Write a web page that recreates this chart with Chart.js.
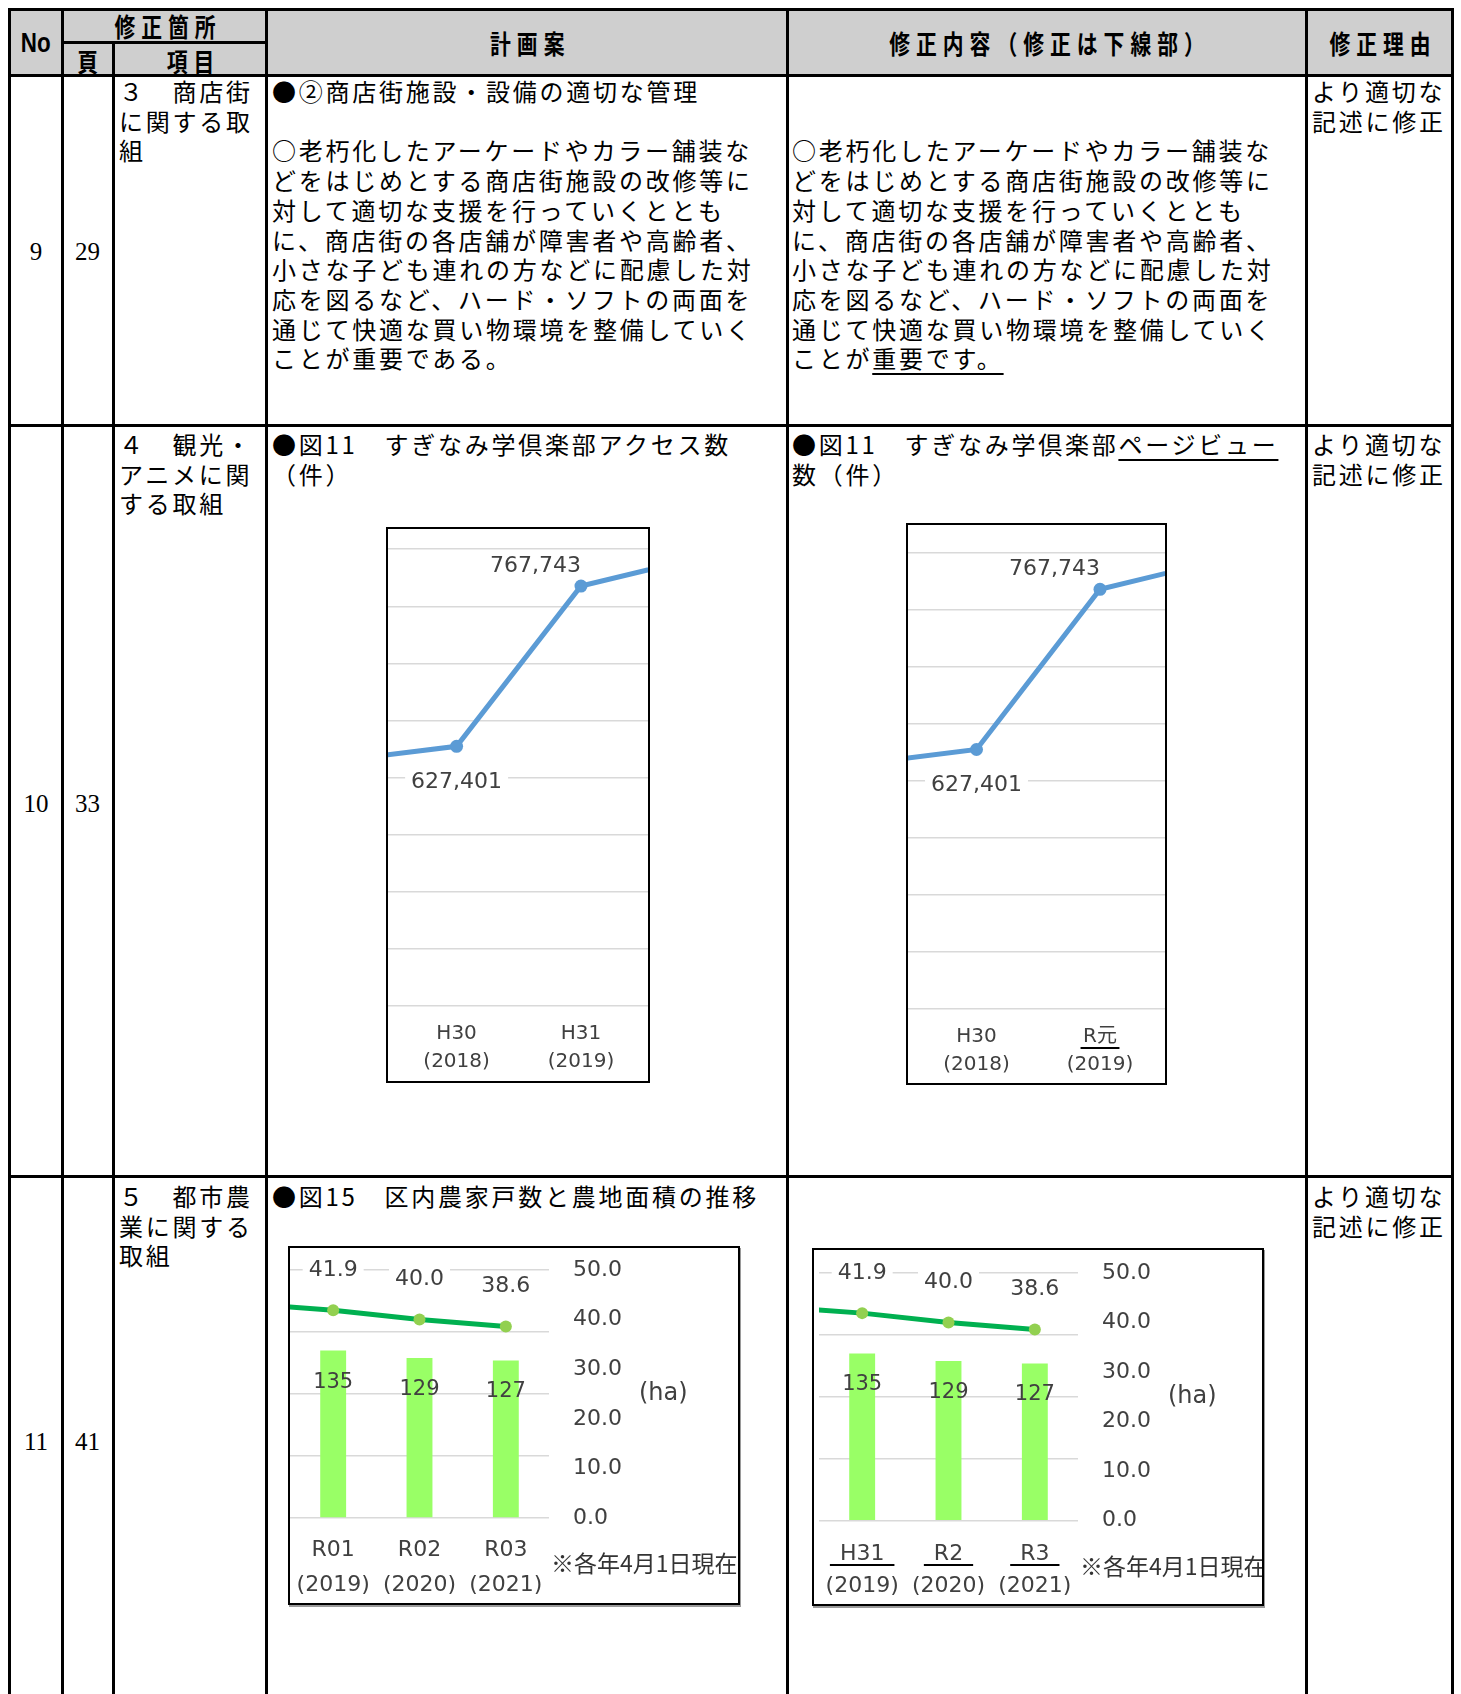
<!DOCTYPE html>
<html lang="ja">
<head>
<meta charset="utf-8">
<title>修正箇所一覧</title>
<script src="https://cdn.jsdelivr.net/npm/chart.js@4.4.1/dist/chart.umd.min.js"></script>
<style>
html, body { margin: 0; padding: 0; background: #fff; }
#page { position: relative; width: 1461px; height: 1694px; overflow: hidden; }
.ln { position: absolute; background: #000; }
.head { position: absolute; background: #cfcfcf; }
.ht { position: absolute; display: flex; align-items: center; justify-content: center; font-family: "Noto Sans CJK JP"; font-weight: 700; font-size: 26px; color: #000; }
.ht span { display: inline-block; transform: scaleX(0.8); letter-spacing: 7.5px; margin-right: -7.5px; white-space: nowrap; }
.ht.no span { font-family: "Liberation Sans Narrow", "Liberation Sans", sans-serif; font-size: 28px; letter-spacing: 0; margin-right: 0; }
.t { position: absolute; font-family: "Noto Sans CJK JP"; font-size: 24px; letter-spacing: 2.75px; line-height: 29.7px; white-space: nowrap; color: #000; }
.t u { text-decoration-thickness: 2px; text-underline-offset: 5px; }
.num { position: absolute; font-family: "Liberation Serif", serif; font-size: 25px; line-height: 30px; text-align: center; color: #000; }
.box { position: absolute; border: 2px solid #000; box-sizing: border-box; background: #fff; }
.box.sh { box-shadow: 1px 2px 0 #9a9a9a; }
.cw { position: relative; width: 100%; height: 100%; }
</style>
</head>
<body>
<div id="page">
  <!-- 見出し行 -->
  <div class="head" style="left:8px;top:8px;width:1446px;height:69px;"></div>
  <div class="ht no" style="left:10px;top:10px;width:52px;height:65px;"><span>No</span></div>
  <div class="ht" style="left:63px;top:9px;width:202px;height:32px;"><span>修正箇所</span></div>
  <div class="ht" style="left:63px;top:44px;width:49px;height:32px;"><span>頁</span></div>
  <div class="ht" style="left:114px;top:44px;width:151px;height:32px;"><span>項目</span></div>
  <div class="ht" style="left:267px;top:10px;width:519px;height:65px;"><span>計画案</span></div>
  <div class="ht" style="left:788px;top:10px;width:517px;height:65px;"><span>修正内容（修正は下線部）</span></div>
  <div class="ht" style="left:1307px;top:10px;width:144px;height:65px;"><span>修正理由</span></div>

  <!-- 罫線 -->
  <div class="ln" style="left:8px;top:8px;width:1446px;height:3px;"></div>
  <div class="ln" style="left:61px;top:41px;width:207px;height:3px;"></div>
  <div class="ln" style="left:8px;top:74px;width:1446px;height:3px;"></div>
  <div class="ln" style="left:8px;top:424px;width:1446px;height:3px;"></div>
  <div class="ln" style="left:8px;top:1175px;width:1446px;height:3px;"></div>
  <div class="ln" style="left:8px;top:8px;width:3px;height:1686px;"></div>
  <div class="ln" style="left:61px;top:8px;width:3px;height:1686px;"></div>
  <div class="ln" style="left:112px;top:41px;width:3px;height:1653px;"></div>
  <div class="ln" style="left:265px;top:8px;width:3px;height:1686px;"></div>
  <div class="ln" style="left:786px;top:8px;width:3px;height:1686px;"></div>
  <div class="ln" style="left:1305px;top:8px;width:3px;height:1686px;"></div>
  <div class="ln" style="left:1451px;top:8px;width:3px;height:1686px;"></div>

  <!-- No.9 -->
  <div class="num" style="left:10px;top:237px;width:52px;">9</div>
  <div class="num" style="left:63px;top:237px;width:49px;">29</div>
  <div class="t" style="left:119px;top:76px;">３　商店街<br>に関する取<br>組</div>
  <div class="t" style="left:272px;top:76px;">●②商店街施設・設備の適切な管理<br><br>○老朽化したアーケードやカラー舗装な<br>どをはじめとする商店街施設の改修等に<br>対して適切な支援を行っていくととも<br>に、商店街の各店舗が障害者や高齢者、<br>小さな子ども連れの方などに配慮した対<br>応を図るなど、ハード・ソフトの両面を<br>通じて快適な買い物環境を整備していく<br>ことが重要である。</div>
  <div class="t" style="left:792px;top:76px;"><br><br>○老朽化したアーケードやカラー舗装な<br>どをはじめとする商店街施設の改修等に<br>対して適切な支援を行っていくととも<br>に、商店街の各店舗が障害者や高齢者、<br>小さな子ども連れの方などに配慮した対<br>応を図るなど、ハード・ソフトの両面を<br>通じて快適な買い物環境を整備していく<br>ことが<u>重要です。</u></div>
  <div class="t" style="left:1312px;top:76px;">より適切な<br>記述に修正</div>

  <!-- No.10 -->
  <div class="num" style="left:10px;top:789px;width:52px;">10</div>
  <div class="num" style="left:63px;top:789px;width:49px;">33</div>
  <div class="t" style="left:119px;top:429px;">４　観光・<br>アニメに関<br>する取組</div>
  <div class="t" style="left:272px;top:429px;">●図11　すぎなみ学倶楽部アクセス数<br>（件）</div>
  <div class="t" style="left:792px;top:429px;">●図11　すぎなみ学倶楽部<u>ページビュー</u><br>数（件）</div>
  <div class="t" style="left:1312px;top:429px;">より適切な<br>記述に修正</div>
  <div class="box" style="left:386px;top:527px;width:264px;height:556px;"><div class="cw"><canvas id="pvPlan"></canvas></div></div>
  <div class="box" style="left:906px;top:523px;width:261px;height:562px;"><div class="cw"><canvas id="pvRev"></canvas></div></div>

  <!-- No.11 -->
  <div class="num" style="left:10px;top:1427px;width:52px;">11</div>
  <div class="num" style="left:63px;top:1427px;width:49px;">41</div>
  <div class="t" style="left:119px;top:1181px;">５　都市農<br>業に関する<br>取組</div>
  <div class="t" style="left:272px;top:1181px;">●図15　区内農家戸数と農地面積の推移</div>
  <div class="t" style="left:1312px;top:1181px;">より適切な<br>記述に修正</div>
  <div class="box sh" style="left:288px;top:1246px;width:452px;height:359px;"><div class="cw"><canvas id="farmPlan"></canvas></div></div>
  <div class="box sh" style="left:812px;top:1248px;width:452px;height:358px;"><div class="cw"><canvas id="farmRev"></canvas></div></div>
</div>

<script>
// 図11 すぎなみ学倶楽部アクセス数（件）
// 枠の外側の年度（先頭と末尾）は線の端だけが見えている
const pvSlots = [0, 1, 2, 3];
const pvCounts = [614000, 627401, 767743, 794000];
const pvErasPlan = ['', 'H30', 'H31', ''];
const pvErasRev = ['', 'H30', 'R元', ''];
const pvYears = ['', '(2018)', '(2019)', ''];
const pvRevMarked = [2];
const pvGridTicks = [400000, 450000, 500000, 550000, 600000, 650000, 700000, 750000, 800000];

// 図15 区内農家戸数と農地面積の推移
const farmErasPlan = ['H30', 'R01', 'R02', 'R03'];
const farmErasRev = ['H30', 'H31', 'R2', 'R3'];
const farmYears = ['(2018)', '(2019)', '(2020)', '(2021)'];
const farmHouseholds = [null, 135, 129, 127];
const farmAreaHa = [43.2, 41.9, 40.0, 38.6];
const farmRevMarked = [1, 2, 3];
const farmGridTicks = [0, 50, 100, 150, 200];
const haTicks = [0, 10, 20, 30, 40, 50];
const areaUnit = '(ha)';
const farmNote = '※各年4月1日現在';

const LABEL_FONT = '"DejaVu Sans", "Noto Sans CJK JP", sans-serif';
const GREY = '#404040';
const GRID = '#d9d9d9';

// 軸ラベルのはみ出し分の余白は使わない（枠の位置に合わせる）
function noPad(s) {
  s.paddingTop = 0;
  s.paddingBottom = 0;
  s.paddingLeft = 0;
  s.paddingRight = 0;
}

function fixedTicks(values) {
  return s => { s.ticks = values.map(v => ({ value: v })); };
}

// データラベル（点・棒の位置はスケールから取る）
function valueLabels(items) {
  return {
    id: 'valueLabels',
    afterDatasetsDraw(chart) {
      const ctx = chart.ctx;
      items.forEach(it => {
        const el = chart.getDatasetMeta(it.ds).data[it.i];
        const raw = chart.data.datasets[it.ds].data[it.i];
        const val = raw !== null && typeof raw === 'object' ? raw.y : raw;
        const text = it.fmt(val);
        ctx.save();
        ctx.font = it.font;
        ctx.textAlign = it.align || 'center';
        ctx.textBaseline = 'middle';
        const w = ctx.measureText(text).width;
        const x = el.x + (it.dx || 0);
        const y = el.y + it.dy;
        if (it.bg) {
          const left = it.align === 'right' ? x - w : it.align === 'left' ? x : x - w / 2;
          ctx.fillStyle = '#fff';
          ctx.fillRect(left - 6, y - 12, w + 12, 24);
        }
        ctx.fillStyle = GREY;
        ctx.fillText(text, x, y);
        ctx.restore();
      });
    }
  };
}

// 修正した年度ラベルの下線
function eraUnderline(values, eras, font, dy, extra) {
  return {
    id: 'eraUnderline',
    afterDraw(chart) {
      const sx = chart.scales.x;
      const ctx = chart.ctx;
      ctx.save();
      ctx.font = font;
      ctx.strokeStyle = '#000';
      ctx.lineWidth = 2;
      values.forEach(v => {
        const x = sx.getPixelForValue(v);
        const w = ctx.measureText(eras[v]).width + extra;
        const y = Math.round(sx.top + dy);
        ctx.beginPath();
        ctx.moveTo(x - w / 2, y);
        ctx.lineTo(x + w / 2, y);
        ctx.stroke();
      });
      ctx.restore();
    }
  };
}

function farmNotes(noteDy) {
  return {
    id: 'farmNotes',
    afterDraw(chart) {
      const ctx = chart.ctx;
      const y1 = chart.scales.y1;
      const area = chart.chartArea;
      ctx.save();
      ctx.textAlign = 'left';
      ctx.textBaseline = 'middle';
      ctx.fillStyle = GREY;
      ctx.font = '24px ' + LABEL_FONT;
      ctx.fillText(areaUnit, y1.left + 90, (area.top + area.bottom) / 2);
      ctx.fillStyle = '#333';
      ctx.font = '23px "Noto Sans CJK JP"';
      ctx.fillText(farmNote, y1.left + 2, area.bottom + noteDy);
      ctx.restore();
    }
  };
}

function pageViewChart(id, eras, o) {
  const shown = pvSlots.filter((s, i) => eras[i] !== '');
  const tickFont = { family: LABEL_FONT, size: 20, lineHeight: 1.4 };
  const plugins = [valueLabels([
    { ds: 0, i: 2, dy: -20, align: 'right', bg: true, font: '22px ' + LABEL_FONT, fmt: v => v.toLocaleString('en-US') },
    { ds: 0, i: 1, dy: 36, align: 'center', bg: true, font: '22px ' + LABEL_FONT, fmt: v => v.toLocaleString('en-US') }
  ])];
  if (o.marked) plugins.push(eraUnderline(o.marked, eras, '20px ' + LABEL_FONT, o.lineDy, 5));
  return new Chart(document.getElementById(id), {
    type: 'line',
    data: {
      datasets: [{
        data: pvSlots.map((s, i) => ({ x: s, y: pvCounts[i] })),
        borderColor: '#5b9bd5',
        backgroundColor: '#5b9bd5',
        pointBackgroundColor: '#5b9bd5',
        borderWidth: 5,
        pointRadius: 6.5,
        pointBorderWidth: 0,
        tension: 0
      }]
    },
    options: {
      responsive: true,
      maintainAspectRatio: false,
      animation: false,
      events: [],
      layout: { padding: 0, autoPadding: false },
      plugins: { legend: { display: false }, tooltip: { enabled: false } },
      scales: {
        x: {
          type: 'linear',
          min: o.xMin,
          max: o.xMax,
          grid: { display: false },
          border: { display: false },
          afterBuildTicks: fixedTicks(shown),
          ticks: {
            autoSkip: false,
            maxRotation: 0,
            padding: 6,
            color: GREY,
            font: tickFont,
            callback: v => { const i = pvSlots.indexOf(v); return [eras[i], pvYears[i]]; }
          },
          afterFit: s => { s.height = o.axisH; noPad(s); }
        },
        y: {
          min: 400000,
          max: o.yMax,
          afterBuildTicks: fixedTicks(pvGridTicks),
          ticks: { display: false },
          grid: { color: GRID, lineWidth: 1.5, drawTicks: false },
          border: { display: false },
          afterFit: s => { s.width = 0; noPad(s); }
        }
      }
    },
    plugins: plugins
  });
}

function farmChart(id, eras, o) {
  const fontL = '22px ' + LABEL_FONT;
  const fontB = '21px ' + LABEL_FONT;
  const plugins = [
    valueLabels([
      { ds: 1, i: 1, dy: -40, bg: true, font: fontL, fmt: v => v.toFixed(1) },
      { ds: 1, i: 2, dy: -40, bg: true, font: fontL, fmt: v => v.toFixed(1) },
      { ds: 1, i: 3, dy: -40, bg: true, font: fontL, fmt: v => v.toFixed(1) },
      { ds: 0, i: 1, dy: 31.5, font: fontB, fmt: v => String(v) },
      { ds: 0, i: 2, dy: 31.5, font: fontB, fmt: v => String(v) },
      { ds: 0, i: 3, dy: 31.5, font: fontB, fmt: v => String(v) }
    ]),
    farmNotes(o.noteDy)
  ];
  if (o.marked) plugins.push(eraUnderline(o.marked, eras, '22px ' + LABEL_FONT, o.lineDy, 20));
  return new Chart(document.getElementById(id), {
    type: 'bar',
    data: {
      labels: eras.map((e, i) => [e, farmYears[i]]),
      datasets: [
        {
          type: 'bar',
          data: farmHouseholds,
          yAxisID: 'y',
          backgroundColor: '#99ff66',
          categoryPercentage: 1,
          barPercentage: 0.3,
          order: 1
        },
        {
          type: 'line',
          data: farmAreaHa,
          yAxisID: 'y1',
          borderColor: '#00b050',
          backgroundColor: '#92d050',
          pointBackgroundColor: '#92d050',
          borderWidth: 5,
          pointRadius: 6,
          pointBorderWidth: 0,
          tension: 0,
          order: 0
        }
      ]
    },
    options: {
      responsive: true,
      maintainAspectRatio: false,
      animation: false,
      events: [],
      layout: { padding: { left: o.padL, top: o.padT, right: 0, bottom: 0 }, autoPadding: false },
      plugins: { legend: { display: false }, tooltip: { enabled: false } },
      scales: {
        x: {
          type: 'category',
          min: 1,
          max: 3,
          offset: true,
          grid: { display: false },
          border: { display: false },
          ticks: {
            autoSkip: false,
            maxRotation: 0,
            padding: o.tickPad,
            color: GREY,
            font: { family: LABEL_FONT, size: 22, lineHeight: o.lineH }
          },
          afterFit: s => { s.height = o.axisH; noPad(s); }
        },
        y: {
          position: 'left',
          min: 0,
          max: 200,
          afterBuildTicks: fixedTicks(farmGridTicks),
          ticks: { display: false },
          grid: { color: GRID, lineWidth: 1.5, drawTicks: false },
          border: { display: false },
          afterFit: s => { s.width = 0; noPad(s); }
        },
        y1: {
          position: 'right',
          min: 0,
          max: 50,
          afterBuildTicks: fixedTicks(haTicks),
          grid: { display: false, drawTicks: false },
          border: { display: false },
          ticks: {
            padding: 24,
            color: GREY,
            font: { family: LABEL_FONT, size: 22 },
            callback: v => Number(v).toFixed(1)
          },
          afterFit: s => { s.width = o.rightW; noPad(s); }
        }
      }
    },
    plugins: plugins
  });
}

pageViewChart('pvPlan', pvErasPlan, { xMin: 0.4486, xMax: 2.5387, yMax: 817700, axisH: 75 });
pageViewChart('pvRev', pvErasRev, { xMin: 0.4453, xMax: 2.5263, yMax: 824100, axisH: 74, marked: pvRevMarked, lineDy: 38.5 });
farmChart('farmPlan', farmErasPlan, { padL: 0, padT: 22, axisH: 85, rightW: 189, tickPad: 7.5, lineH: 1.56, noteDy: 45 });
farmChart('farmRev', farmErasRev, { padL: 5, padT: 23, axisH: 83.3, rightW: 184, tickPad: 10, lineH: 1.45, noteDy: 46, marked: farmRevMarked, lineDy: 44 });
</script>
</body>
</html>
